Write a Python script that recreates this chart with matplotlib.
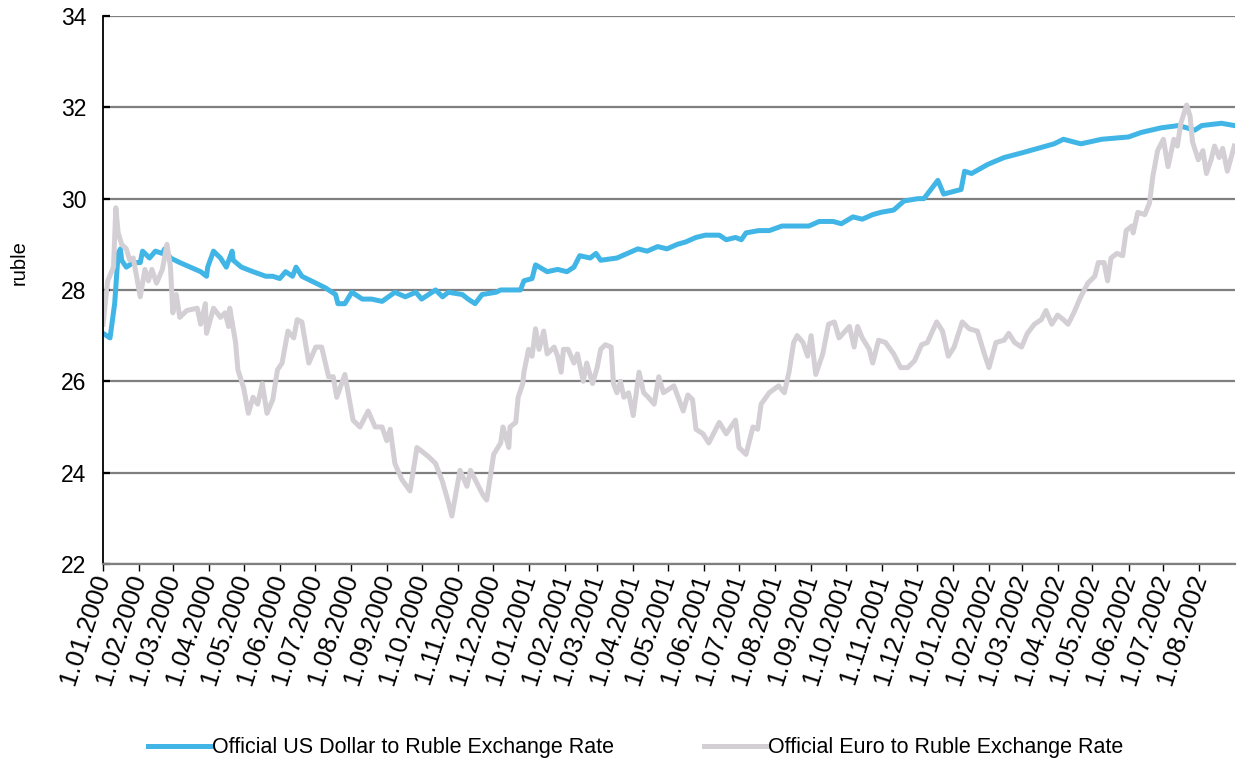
import pandas as pd
import numpy as np
import matplotlib
matplotlib.use("Agg")
import matplotlib.pyplot as plt
import matplotlib.dates as mdates
from matplotlib.ticker import FuncFormatter

plt.rcParams["font.family"] = ["Liberation Sans", "DejaVu Sans"]

start = pd.Timestamp("2000-01-01")

# days since 1.01.2000 and rate
usd_day = [0, 6, 10, 13, 15, 16, 20, 26, 32, 34, 40, 45, 51, 53, 58, 66, 75, 84, 89, 90,
           95, 101, 106, 111, 112, 119, 129, 140, 146, 152, 157, 163, 166, 171, 183, 191,
           200, 202, 208, 214, 223, 231, 240, 251, 260, 269, 274, 286, 292, 297, 309, 314,
           320, 326, 338, 342, 359, 362, 369, 372, 382, 391, 399, 405, 410, 419, 424, 428,
           442, 451, 460, 468, 477, 485, 494, 501, 510, 518, 530, 536, 544, 549, 553, 564,
           573, 584, 596, 607, 616, 628, 635, 645, 653, 662, 669, 680, 689, 701, 706, 718,
           723, 738, 741, 747, 761, 775, 790, 804, 818, 826, 841, 859, 882, 893, 910, 925,
           939, 945, 962, 973]
usd_rate = [27.05, 26.95, 27.7, 28.8, 28.9, 28.65, 28.5, 28.6, 28.6, 28.85, 28.7, 28.85, 28.8,
            28.9, 28.7, 28.6, 28.5, 28.4, 28.3, 28.5, 28.85, 28.7, 28.5, 28.85, 28.65, 28.5,
            28.4, 28.3, 28.3, 28.25, 28.4, 28.3, 28.5, 28.3, 28.15, 28.05, 27.9, 27.7, 27.7,
            27.95, 27.8, 27.8, 27.75, 27.95, 27.85, 27.95, 27.8, 28.0, 27.85, 27.95, 27.9,
            27.8, 27.7, 27.9, 27.95, 28.0, 28.0, 28.2, 28.25, 28.55, 28.4, 28.45, 28.4, 28.5,
            28.75, 28.7, 28.8, 28.65, 28.7, 28.8, 28.9, 28.85, 28.95, 28.9, 29.0, 29.05, 29.15,
            29.2, 29.2, 29.1, 29.15, 29.1, 29.25, 29.3, 29.3, 29.4, 29.4, 29.4, 29.5, 29.5,
            29.45, 29.6, 29.55, 29.65, 29.7, 29.75, 29.95, 30.0, 30.0, 30.4, 30.1, 30.2, 30.6,
            30.55, 30.75, 30.9, 31.0, 31.1, 31.2, 31.3, 31.2, 31.3, 31.35, 31.45, 31.55, 31.6,
            31.5, 31.6, 31.65, 31.6]

eur_day = [0, 4, 9, 11, 13, 16, 20, 23, 26, 32, 36, 39, 42, 46, 51, 55, 58, 60, 63, 66, 72,
           81, 84, 88, 89, 95, 101, 105, 108, 109, 114, 116, 121, 125, 129, 133, 137, 141,
           146, 150, 154, 159, 164, 167, 171, 177, 183, 188, 194, 198, 201, 208, 215, 221,
           228, 234, 240, 244, 247, 251, 257, 264, 270, 280, 286, 292, 297, 300, 307, 313,
           316, 322, 327, 330, 336, 342, 344, 349, 350, 355, 357, 361, 362, 366, 369, 372,
           375, 379, 382, 388, 391, 394, 396, 400, 405, 408, 413, 416, 421, 425, 428, 432,
           437, 439, 442, 445, 448, 452, 456, 461, 465, 469, 474, 478, 482, 491, 499, 503,
           507, 510, 516, 521, 530, 536, 544, 547, 553, 559, 563, 566, 573, 581, 586, 590,
           594, 597, 602, 606, 609, 613, 619, 624, 629, 633, 642, 646, 649, 653, 659, 662,
           667, 673, 680, 686, 692, 698, 704, 709, 717, 722, 727, 732, 739, 745, 752, 758,
           762, 768, 775, 779, 784, 790, 795, 801, 807, 811, 816, 821, 826, 830, 835, 840,
           847, 853, 856, 861, 864, 867, 872, 877, 880, 885, 886, 890, 896, 900, 903, 907,
           912, 916, 921, 924, 927, 932, 935, 937, 942, 946, 949, 953, 956, 960, 963, 967, 973]
eur_rate = [27.25, 28.2, 28.5, 29.8, 29.25, 29.0, 28.9, 28.65, 28.7, 27.85, 28.45, 28.2, 28.45,
            28.15, 28.45, 29.0, 28.5, 27.5, 27.9, 27.4, 27.55, 27.6, 27.25, 27.7, 27.05, 27.6,
            27.4, 27.5, 27.2, 27.6, 26.85, 26.25, 25.85, 25.3, 25.65, 25.5, 25.95, 25.3, 25.6,
            26.25, 26.4, 27.1, 26.95, 27.35, 27.3, 26.4, 26.75, 26.75, 26.1, 26.1, 25.65, 26.15,
            25.15, 25.0, 25.35, 25.0, 25.0, 24.7, 24.95, 24.2, 23.85, 23.6, 24.55, 24.35, 24.2,
            23.8, 23.35, 23.05, 24.05, 23.7, 24.05, 23.75, 23.5, 23.4, 24.4, 24.65, 25.0, 24.55,
            25.0, 25.1, 25.65, 25.95, 26.2, 26.7, 26.55, 27.15, 26.7, 27.1, 26.6, 26.75, 26.55,
            26.2, 26.7, 26.7, 26.4, 26.6, 26.0, 26.4, 25.95, 26.3, 26.7, 26.8, 26.75, 25.95,
            25.75, 26.0, 25.65, 25.75, 25.25, 26.2, 25.75, 25.65, 25.5, 26.1, 25.75, 25.9,
            25.35, 25.7, 25.6, 24.95, 24.85, 24.65, 25.1, 24.85, 25.15, 24.55, 24.4, 25.0, 24.95,
            25.5, 25.75, 25.9, 25.75, 26.2, 26.85, 27.0, 26.85, 26.55, 27.0, 26.15, 26.6, 27.25,
            27.3, 26.95, 27.2, 26.75, 27.2, 26.95, 26.7, 26.4, 26.9, 26.85, 26.6, 26.3, 26.3,
            26.45, 26.8, 26.85, 27.3, 27.1, 26.55, 26.75, 27.3, 27.15, 27.1, 26.6, 26.3, 26.85,
            26.9, 27.05, 26.85, 26.75, 27.05, 27.25, 27.35, 27.55, 27.25, 27.45, 27.35, 27.25,
            27.5, 27.8, 28.15, 28.3, 28.6, 28.6, 28.2, 28.7, 28.8, 28.75, 29.3, 29.4, 29.25,
            29.7, 29.65, 29.9, 30.5, 31.05, 31.3, 30.7, 31.3, 31.15, 31.65, 32.05, 31.8, 31.25,
            30.85, 31.05, 30.55, 30.85, 31.15, 30.9, 31.1, 30.6, 31.15]

usd_dates = start + pd.to_timedelta(usd_day, unit="D")
eur_dates = start + pd.to_timedelta(eur_day, unit="D")

fig = plt.figure(figsize=(12.37, 7.67), dpi=100)
ax = fig.add_axes([0.0833, 0.2647, 0.915, 0.7145])

ax.plot(usd_dates, usd_rate, color="#41B6E6", lw=3.6, solid_joinstyle="round",
        label="Official US Dollar to Ruble Exchange Rate")
ax.plot(eur_dates, eur_rate, color="#D3CFD4", lw=3.6, solid_joinstyle="round",
        label="Official Euro to Ruble Exchange Rate")

ax.set_ylim(22, 34)
ax.set_yticks(np.arange(22, 35, 2))
ax.set_xlim(start, start + pd.Timedelta(days=973.5))
ax.xaxis.set_major_locator(mdates.MonthLocator())
ax.xaxis.set_major_formatter(FuncFormatter(
    lambda v, p: "{}.{:02d}.{}".format(mdates.num2date(v).day, mdates.num2date(v).month,
                                       mdates.num2date(v).year)))

ax.grid(axis="y", color="#7F7F7F", lw=1.6)
ax.set_axisbelow(True)
for s in ["top", "right"]:
    ax.spines[s].set_visible(False)
ax.spines["bottom"].set_color("#7F7F7F")
ax.spines["bottom"].set_linewidth(1.6)
ax.spines["left"].set_color("black")
ax.spines["left"].set_linewidth(1.3)

ax.tick_params(axis="y", direction="in", length=5, width=1.6, labelsize=16.5, pad=12)
ax.tick_params(axis="x", direction="out", length=5, width=1.0, labelsize=18.5, pad=3)
for lbl in ax.get_xticklabels():
    lbl.set_rotation(72)
    lbl.set_ha("right")
    lbl.set_va("center")
    lbl.set_rotation_mode("anchor")

ax.set_ylabel("ruble", fontsize=14.5)
ax.yaxis.set_label_coords(-0.066, 0.55)

fig.legend(loc="center", bbox_to_anchor=(0.514, 0.025), ncol=2, frameon=False,
           fontsize=15.5, handlelength=2.9, handletextpad=0.05, columnspacing=4.2)

fig.savefig("out.png", dpi=100)
